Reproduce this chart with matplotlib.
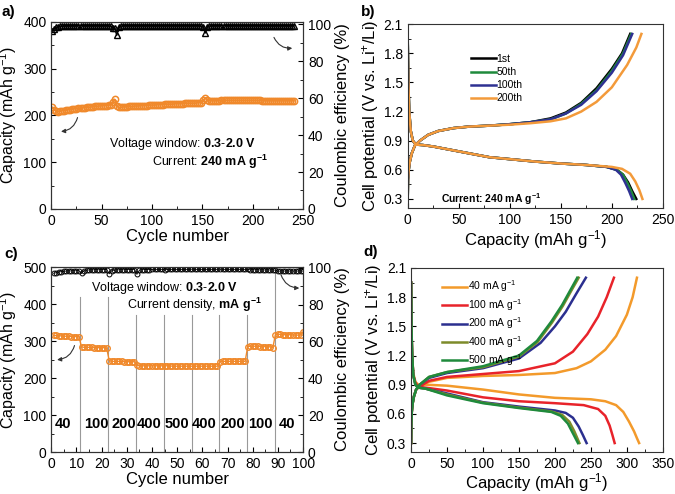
import numpy as np
import matplotlib.pyplot as plt
from matplotlib.ticker import MultipleLocator, AutoMinorLocator

plt.rcParams.update(
    {
        "font.family": ["Liberation Sans", "DejaVu Sans"],
        "mathtext.fontset": "custom",
        "mathtext.rm": "Liberation Sans",
        "mathtext.bf": "Liberation Sans:bold",
        "mathtext.it": "Liberation Sans:italic",
        "font.size": 10,
        "axes.labelsize": 12,
        "xtick.labelsize": 10,
        "ytick.labelsize": 10,
        "xtick.direction": "in",
        "ytick.direction": "in",
        "xtick.major.size": 3.5,
        "ytick.major.size": 3.5,
        "xtick.minor.size": 2,
        "ytick.minor.size": 2,
        "axes.linewidth": 0.8,
        "axes.edgecolor": "#333333",
    }
)

ORANGE = "#f0892b"

# ---------------- panel a: cycling at 240 mA/g ----------------
cycles_a = list(range(1, 242, 2))
capacity_a = [
    217, 212, 209, 208, 209, 210, 210, 211, 212, 212,
    213, 214, 214, 215, 215, 216, 216, 217, 217, 218,
    218, 219, 219, 220, 220, 221, 221, 221, 222, 222,
    228, 234, 219, 217, 217, 218, 218, 218, 219, 219,
    219, 220, 220, 220, 221, 221, 221, 221, 222, 222,
    222, 222, 223, 223, 223, 223, 224, 224, 224, 224,
    224, 225, 225, 225, 225, 225, 226, 226, 226, 226,
    226, 226, 227, 227, 227, 233, 237, 232, 231, 231,
    231, 231, 231, 231, 232, 232, 232, 232, 232, 232,
    232, 232, 232, 232, 232, 232, 232, 232, 232, 232,
    232, 232, 232, 232, 231, 231, 231, 231, 231, 231,
    231, 231, 231, 231, 231, 231, 231, 231, 231, 231, 231,
]
ce_a = [
    96.5, 97.6, 98.4, 98.8, 99.0, 99.1, 99.2, 99.2, 99.3, 99.2,
    99.3, 99.2, 99.3, 99.3, 99.2, 99.3, 99.3, 99.2, 99.3, 99.3,
    99.2, 99.3, 99.3, 99.3, 99.2, 99.3, 99.3, 99.3, 99.2, 99.0,
    98.2, 97.8, 94.0, 98.6, 99.0, 99.2, 99.3, 99.3, 99.2, 99.3,
    99.3, 99.3, 99.2, 99.3, 99.3, 99.3, 99.2, 99.3, 99.3, 99.3,
    99.3, 99.2, 99.3, 99.3, 99.3, 99.3, 99.2, 99.3, 99.3, 99.3,
    99.3, 99.3, 99.2, 99.3, 99.3, 99.3, 99.3, 99.3, 99.2, 99.3,
    99.3, 99.3, 99.3, 99.2, 99.0, 98.6, 95.3, 98.8, 99.1, 99.2,
    99.3, 99.3, 99.3, 99.2, 99.3, 99.3, 99.3, 99.3, 99.3, 99.2,
    99.3, 99.3, 99.3, 99.3, 99.3, 99.3, 99.2, 99.3, 99.3, 99.3,
    99.3, 99.3, 99.3, 99.2, 99.3, 99.3, 99.3, 99.3, 99.3, 99.3,
    99.2, 99.3, 99.3, 99.3, 99.3, 99.3, 99.3, 99.2, 99.3, 99.3, 99.3,
]

# ---------------- panel b: voltage profiles at 240 mA/g ----------------
b_labels = ["1st", "50th", "100th", "200th"]
b_colors = ["black", "#1f8a3c", "#2e3192", "#f39a3a"]
b_dis_cap = [
    [0, 0.5, 1.5, 3, 5, 8, 15, 25, 40, 60, 80, 100, 125, 150, 175, 195, 205, 211, 216, 220, 224],
    [0, 0.5, 1.5, 3, 5, 8, 15, 25, 40, 60, 80, 100, 125, 150, 175, 195, 205, 211, 215, 219, 222],
    [0, 0.5, 1.5, 3, 5, 8, 15, 25, 40, 60, 80, 100, 125, 150, 175, 195, 204, 209, 213, 217, 220],
    [0, 0.5, 1.5, 3, 5, 8, 15, 25, 40, 60, 80, 100, 125, 150, 175, 200, 210, 218, 223, 227, 230],
]
b_dis_v = [
    [1.95, 1.55, 1.2, 1.0, 0.9, 0.86, 0.855, 0.84, 0.81, 0.77, 0.73, 0.71, 0.685, 0.665, 0.65, 0.63, 0.6, 0.55, 0.47, 0.38, 0.3],
    [1.95, 1.55, 1.2, 1.0, 0.9, 0.86, 0.855, 0.84, 0.81, 0.77, 0.73, 0.71, 0.685, 0.665, 0.65, 0.63, 0.6, 0.55, 0.47, 0.38, 0.3],
    [1.95, 1.55, 1.2, 1.0, 0.9, 0.86, 0.855, 0.84, 0.81, 0.77, 0.73, 0.71, 0.685, 0.665, 0.65, 0.63, 0.6, 0.55, 0.47, 0.38, 0.3],
    [1.93, 1.55, 1.2, 1.0, 0.9, 0.86, 0.855, 0.84, 0.81, 0.77, 0.73, 0.71, 0.685, 0.665, 0.65, 0.63, 0.61, 0.56, 0.48, 0.39, 0.3],
]
b_chg_cap = [
    [0, 0.3, 1, 2, 4, 7, 12, 20, 30, 45, 60, 80, 100, 120, 140, 155, 170, 185, 200, 210, 218],
    [0, 0.3, 1, 2, 4, 7, 12, 20, 30, 45, 60, 80, 100, 120, 140, 155, 170, 185, 200, 211, 219],
    [0, 0.3, 1, 2, 4, 7, 12, 20, 30, 45, 60, 80, 100, 120, 140, 155, 170, 185, 200, 211, 220],
    [0, 0.3, 1, 2, 4, 7, 12, 20, 30, 45, 60, 80, 100, 120, 140, 155, 170, 185, 200, 215, 224, 229],
]
b_chg_v = [
    [0.3, 0.5, 0.6, 0.68, 0.77, 0.85, 0.9, 0.96, 1.0, 1.03, 1.045, 1.055, 1.07, 1.09, 1.13, 1.19, 1.29, 1.44, 1.64, 1.8, 2.0],
    [0.3, 0.5, 0.6, 0.68, 0.77, 0.85, 0.9, 0.96, 1.0, 1.03, 1.045, 1.055, 1.07, 1.09, 1.12, 1.18, 1.28, 1.42, 1.62, 1.8, 2.0],
    [0.3, 0.5, 0.6, 0.68, 0.77, 0.85, 0.9, 0.96, 1.0, 1.03, 1.045, 1.055, 1.07, 1.09, 1.12, 1.18, 1.27, 1.41, 1.6, 1.78, 2.0],
    [0.3, 0.5, 0.6, 0.68, 0.77, 0.85, 0.9, 0.96, 1.0, 1.03, 1.045, 1.055, 1.065, 1.08, 1.1, 1.13, 1.2, 1.3, 1.45, 1.68, 1.86, 2.0],
]

# ---------------- panel c: rate capability ----------------
cycles_c = list(range(1, 101))
capacity_c = [
    315, 315, 314, 314, 313, 313, 313, 312, 312, 312, 312,
    284, 283, 283, 283, 283, 282, 282, 282, 282, 282, 281,
    247, 245, 245, 245, 245, 245, 244, 244, 244, 244, 244,
    234, 233, 233, 233, 233, 233, 233, 233, 233, 233, 233,
    233, 233, 233, 232, 232, 232, 232, 232, 232, 232, 232,
    232, 232, 232, 232, 232, 232, 232, 232, 232, 232, 232,
    244, 245, 245, 245, 245, 245, 245, 245, 245, 245, 245,
    285, 286, 286, 286, 286, 285, 285, 285, 285, 284, 282,
    317, 318, 318, 317, 317, 317, 317, 316, 316, 316, 316, 325,
]
ce_c = [
    97.0, 97.5, 97.8, 98.0, 98.2, 98.3, 98.3, 98.4, 98.4, 98.5, 98.5,
    97.0, 98.6, 98.8, 98.9, 98.9, 99.0, 99.0, 99.0, 99.0, 99.1, 99.1,
    96.8, 98.5, 98.8, 98.9, 99.0, 99.0, 99.0, 99.1, 99.1, 99.1, 99.1,
    96.5, 98.8, 99.0, 99.1, 99.1, 99.1, 99.2, 99.2, 99.2, 99.2, 99.2,
    99.0, 99.2, 99.2, 99.2, 99.2, 99.2, 99.2, 99.2, 99.2, 99.2, 99.2,
    99.3, 99.2, 99.2, 99.2, 99.2, 99.2, 99.2, 99.2, 99.2, 99.2, 99.2,
    99.3, 99.2, 99.2, 99.2, 99.2, 99.2, 99.2, 99.2, 99.2, 99.2, 99.2,
    99.2, 99.0, 99.0, 99.0, 99.0, 98.9, 98.9, 98.9, 98.9, 98.9, 98.9,
    98.8, 98.2, 98.3, 98.3, 98.3, 98.3, 98.3, 98.3, 98.3, 98.3, 98.3, 98.3,
]
rate_labels = ["40", "100", "200", "400", "500", "400", "200", "100", "40"]
rate_label_x = [4.7, 17.8, 28.8, 38.8, 49.7, 60.6, 72.2, 83.2, 93.8]
rate_breaks = [11.3, 22.4, 33.5, 44.6, 55.7, 66.8, 77.9, 89.0]
rate_break_top = [420, 420, 370, 370, 370, 370, 370, 490]

# ---------------- panel d: voltage profiles at different rates ----------------
d_labels = ["40 mA g$^{-1}$", "100 mA g$^{-1}$", "200 mA g$^{-1}$", "400 mA g$^{-1}$", "500 mA g$^{-1}$"]
d_colors = ["#f39a2b", "#e8232a", "#2b2f8f", "#7d8b2a", "#1f8a3c"]
d_dis_cap = [
    [0, 0.5, 1.5, 3, 6, 10, 20, 50, 100, 150, 200, 250, 270, 285, 295, 303, 310, 314, 317],
    [0, 0.5, 1.5, 3, 6, 10, 20, 50, 100, 150, 200, 240, 260, 270, 276, 280, 283],
    [0, 0.5, 1.5, 3, 6, 10, 20, 50, 100, 150, 200, 215, 225, 233, 239, 244],
    [0, 0.5, 1.5, 3, 6, 10, 20, 50, 100, 150, 195, 210, 220, 227, 234],
    [0, 0.5, 1.5, 3, 6, 10, 20, 50, 100, 150, 195, 208, 218, 225, 232],
]
d_dis_v = [
    [1.95, 1.5, 1.2, 1.02, 0.93, 0.9, 0.9, 0.89, 0.85, 0.8, 0.765, 0.75, 0.73, 0.69, 0.62, 0.52, 0.42, 0.35, 0.3],
    [1.95, 1.5, 1.2, 1.0, 0.92, 0.88, 0.87, 0.84, 0.77, 0.73, 0.71, 0.69, 0.65, 0.58, 0.48, 0.38, 0.3],
    [1.95, 1.5, 1.2, 1.0, 0.9, 0.87, 0.86, 0.81, 0.72, 0.675, 0.635, 0.61, 0.56, 0.47, 0.38, 0.3],
    [1.95, 1.5, 1.2, 1.0, 0.9, 0.87, 0.86, 0.8, 0.715, 0.665, 0.625, 0.59, 0.52, 0.42, 0.3],
    [1.95, 1.5, 1.2, 1.0, 0.9, 0.87, 0.86, 0.79, 0.71, 0.66, 0.62, 0.58, 0.5, 0.4, 0.3],
]
d_chg_cap = [
    [0, 0.3, 1, 2, 4, 7, 12, 25, 50, 100, 150, 200, 230, 250, 270, 285, 300, 308, 314],
    [0, 0.3, 1, 2, 4, 7, 12, 25, 50, 100, 150, 200, 225, 245, 260, 272, 282],
    [0, 0.3, 1, 2, 4, 7, 12, 25, 50, 100, 150, 180, 200, 215, 230, 243],
    [0, 0.3, 1, 2, 4, 7, 12, 25, 50, 100, 150, 176, 196, 211, 223, 233],
    [0, 0.3, 1, 2, 4, 7, 12, 25, 50, 100, 150, 175, 195, 210, 222, 231],
]
d_chg_v = [
    [0.3, 0.5, 0.62, 0.7, 0.78, 0.85, 0.88, 0.93, 0.97, 0.99, 1.0, 1.02, 1.07, 1.14, 1.26, 1.4, 1.62, 1.8, 2.0],
    [0.3, 0.5, 0.62, 0.7, 0.78, 0.85, 0.88, 0.94, 0.98, 1.01, 1.04, 1.12, 1.24, 1.42, 1.6, 1.8, 2.0],
    [0.3, 0.5, 0.62, 0.7, 0.78, 0.85, 0.9, 0.97, 1.02, 1.07, 1.17, 1.33, 1.5, 1.65, 1.84, 2.0],
    [0.3, 0.5, 0.62, 0.7, 0.78, 0.85, 0.9, 0.98, 1.03, 1.08, 1.19, 1.34, 1.54, 1.71, 1.87, 2.0],
    [0.3, 0.5, 0.62, 0.7, 0.78, 0.85, 0.9, 0.98, 1.03, 1.09, 1.2, 1.35, 1.55, 1.72, 1.88, 2.0],
]


def curved_arrow(ax, start, end, rad):
    ax.annotate(
        "",
        xy=end,
        xytext=start,
        arrowprops=dict(
            arrowstyle="-|>",
            connectionstyle=f"arc3,rad={rad}",
            color="#333333",
            lw=0.8,
            mutation_scale=6,
        ),
    )


def style_box(ax):
    ax.xaxis.set_minor_locator(AutoMinorLocator(2))
    ax.yaxis.set_minor_locator(AutoMinorLocator(2))
    ax.tick_params(which="both", top=False, right=False)


fig = plt.figure(figsize=(6.75, 4.94), dpi=100)

# panel a
ax_a = fig.add_axes([0.076, 0.577, 0.373, 0.379])
ax_a2 = ax_a.twinx()
ax_a.plot(cycles_a, capacity_a, "-o", color=ORANGE, ms=4.5, mfc="none", mew=1.1, lw=1.2, zorder=3)
ax_a2.plot(cycles_a, ce_a, "-^", color="black", ms=4.5, mfc="none", mew=1, lw=1)
ax_a.set_xlim(0, 250)
ax_a.set_ylim(0, 400)
ax_a2.set_ylim(0, 101.4)
ax_a.xaxis.set_major_locator(MultipleLocator(50))
ax_a.yaxis.set_major_locator(MultipleLocator(100))
ax_a2.yaxis.set_major_locator(MultipleLocator(20))
style_box(ax_a)
ax_a2.yaxis.set_minor_locator(AutoMinorLocator(2))
ax_a.set_xlabel("Cycle number", labelpad=1)
ax_a.set_ylabel("Capacity (mAh g$^{-1}$)", labelpad=3, fontsize=11.5)
ax_a2.set_ylabel("Coulombic efficiency (%)", labelpad=3)
ax_a.text(130, 139, r"Voltage window: $\mathbf{0.3\text{-}2.0\ V}$", ha="center", va="center", fontsize=9)
ax_a.text(158, 100, r"Current: $\mathbf{240\ mA\ g^{-1}}$", ha="center", va="center", fontsize=9)
curved_arrow(ax_a, (26.7, 201), (6.9, 165), -0.4)
curved_arrow(ax_a, (220, 372), (242, 344), 0.4)

# panel b
ax_b = fig.add_axes([0.604, 0.579, 0.378, 0.372])
for i in range(len(b_labels)):
    ax_b.plot(b_dis_cap[i], b_dis_v[i], color=b_colors[i], lw=1.8)
    ax_b.plot(b_chg_cap[i], b_chg_v[i], color=b_colors[i], lw=1.8, label=b_labels[i])
ax_b.set_xlim(0, 250)
ax_b.set_ylim(0.207, 2.1)
ax_b.xaxis.set_major_locator(MultipleLocator(50))
ax_b.yaxis.set_major_locator(MultipleLocator(0.3))
style_box(ax_b)
ax_b.set_xlabel("Capacity (mAh g$^{-1}$)", labelpad=1)
ax_b.set_ylabel("Cell potential (V vs. Li$^{+}$/Li)", labelpad=2)
ax_b.legend(
    loc="upper left", bbox_to_anchor=(0.23, 0.86), frameon=False, fontsize=7.5,
    handlelength=2.4, handletextpad=0.1, labelspacing=0.3, borderaxespad=0,
)
ax_b.text(0.13, 0.05, r"Current: 240 mA g$^{\mathbf{-1}}$", transform=ax_b.transAxes,
          fontsize=7.5, fontweight="bold", va="center")

# panel c
ax_c = fig.add_axes([0.076, 0.085, 0.373, 0.3745])
ax_c2 = ax_c.twinx()
for x, top in zip(rate_breaks, rate_break_top):
    ax_c.plot([x, x], [0, top], color="#999999", lw=0.8, zorder=1)
ax_c.plot(cycles_c, capacity_c, "-o", color=ORANGE, ms=4, mfc="none", mew=1, lw=1, zorder=3)
ax_c2.plot(cycles_c, ce_c, "-o", color="black", ms=3.5, mfc="none", mew=0.7, lw=0.6)
ax_c.set_xlim(0, 100)
ax_c.set_ylim(0, 500)
ax_c2.set_ylim(0, 100.5)
ax_c.xaxis.set_major_locator(MultipleLocator(10))
ax_c.yaxis.set_major_locator(MultipleLocator(100))
ax_c2.yaxis.set_major_locator(MultipleLocator(20))
style_box(ax_c)
ax_c2.yaxis.set_minor_locator(AutoMinorLocator(2))
ax_c.set_xlabel("Cycle number", labelpad=1)
ax_c.set_ylabel("Capacity (mAh g$^{-1}$)", labelpad=3, fontsize=11.5)
ax_c2.set_ylabel("Coulombic efficiency (%)", labelpad=3)
for x, lab in zip(rate_label_x, rate_labels):
    ax_c.text(x, 76, lab, ha="center", va="center", fontsize=10.5, fontweight="bold")
ax_c.text(45, 443, r"Voltage window: $\mathbf{0.3\text{-}2.0\ V}$", ha="center", va="center", fontsize=9)
ax_c.text(57, 397, r"Current density, $\mathbf{mA\ g^{-1}}$", ha="center", va="center", fontsize=9)
curved_arrow(ax_c, (9.5, 295), (1.2, 249), -0.4)
curved_arrow(ax_c, (90.9, 486), (99.6, 443), 0.4)

# panel d
ax_d = fig.add_axes([0.609, 0.085, 0.373, 0.3725])
for i in range(len(d_labels)):
    ax_d.plot(d_dis_cap[i], d_dis_v[i], color=d_colors[i], lw=1.8)
    ax_d.plot(d_chg_cap[i], d_chg_v[i], color=d_colors[i], lw=1.8, label=d_labels[i])
ax_d.set_xlim(0, 350)
ax_d.set_ylim(0.208, 2.1)
ax_d.xaxis.set_major_locator(MultipleLocator(50))
ax_d.yaxis.set_major_locator(MultipleLocator(0.3))
style_box(ax_d)
ax_d.set_xlabel("Capacity (mAh g$^{-1}$)", labelpad=0)
ax_d.set_ylabel("Cell potential (V vs. Li$^{+}$/Li)", labelpad=2)
ax_d.legend(
    loc="upper left", bbox_to_anchor=(0.105, 0.965), frameon=False, fontsize=7.5,
    handlelength=2.4, handletextpad=0.1, labelspacing=0.25, borderaxespad=0,
)

for lab, x, y in [("a)", 0.002, 0.975), ("b)", 0.535, 0.975), ("c)", 0.006, 0.486), ("d)", 0.538, 0.49)]:
    fig.text(x, y, lab, fontsize=11, fontweight="bold", va="center")

fig.savefig("out.png", dpi=100)
